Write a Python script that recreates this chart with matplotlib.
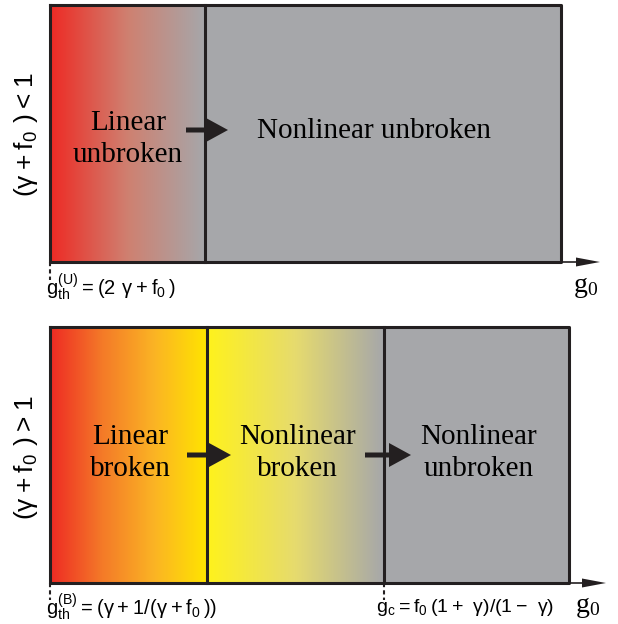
import numpy as np
import matplotlib.pyplot as plt
from matplotlib.colors import LinearSegmentedColormap

# panel geometry in figure pixels (x edges of regions, y top/bottom)
top_edges = [50, 205, 561]
top_y = (5, 262)
bot_edges = [50, 207, 384, 569]
bot_y = (327, 583)

red = "#ee2a24"
grey = "#a6a7aa"
orange = "#f47a28"
yellow = "#ffe400"
yellow_lt = "#fff21c"
khaki = "#e6db6e"

top_grad = [red, "#cf8070", grey]
bot_grad1 = [red, orange, "#fbb424", yellow]
bot_grad2 = [yellow_lt, khaki, grey]

top_labels = ["Linear\nunbroken", "Nonlinear unbroken"]
bot_labels = ["Linear\nbroken", "Nonlinear\nbroken", "Nonlinear\nunbroken"]

plt.rcParams["font.family"] = ["Liberation Sans", "DejaVu Sans"]
plt.rcParams["mathtext.default"] = "regular"

fig = plt.figure(figsize=(6.18, 6.24), dpi=100)
ax = fig.add_axes([0, 0, 1, 1])
ax.set_xlim(0, 618)
ax.set_ylim(624, 0)
ax.axis("off")

edge = "#231f20"
serif = ["Liberation Serif", "DejaVu Serif"]


def gradient(x0, x1, y0, y1, stops):
    cmap = LinearSegmentedColormap.from_list("g", stops)
    arr = np.linspace(0, 1, 256)[None, :]
    ax.imshow(arr, cmap=cmap, extent=(x0, x1, y1, y0), aspect="auto",
              interpolation="bilinear", zorder=1)


def arrow(x0, x1, y):
    ax.arrow(x0, y, x1 - x0, 0, width=5, head_width=24, head_length=22,
             length_includes_head=True, color=edge, lw=0, zorder=5)


def axis_arrow(x0, x1, y):
    ax.plot([x0, x1 - 20], [y, y], color=edge, lw=1.2, zorder=5)
    ax.arrow(x1 - 22, y, 22, 0, width=0.1, head_width=9, head_length=24,
             length_includes_head=True, color=edge, lw=0, zorder=5)


# ---- top panel
y0, y1 = top_y
gradient(top_edges[0], top_edges[1], y0, y1, top_grad)
ax.fill_between([top_edges[1], top_edges[2]], y0, y1, color=grey, zorder=1)
ax.plot([top_edges[0], top_edges[2], top_edges[2], top_edges[0], top_edges[0]],
        [y0, y0, y1, y1, y0], color=edge, lw=2.2, zorder=4)
ax.plot([top_edges[1], top_edges[1]], [y0, y1], color=edge, lw=2.2, zorder=4)
axis_arrow(top_edges[2], 600, y1)
ax.plot([top_edges[0], top_edges[0]], [y1, 280], color=edge, lw=1.5, ls=(0, (2, 1.5)), zorder=4)
ax.text(128, 139, top_labels[0], family=serif, fontsize=21, ha="center", va="center",
        linespacing=1.35, zorder=6)
ax.text(374, 131, top_labels[1], family=serif, fontsize=21, ha="center", va="center", zorder=6)
arrow(186, 228, 130)
ax.text(26, 135, r"$(\gamma + f_0\ ) < 1$", fontsize=19, rotation=90, ha="center",
        va="center")
ax.text(46, 287, r"$g_{th}^{(U)} = (2\ \gamma + f_0\,)$", fontsize=14.5, ha="left",
        va="center")
ax.text(573, 287, r"$g_0$", fontsize=20, family=serif, ha="left", va="center")

# ---- bottom panel
y0, y1 = bot_y
gradient(bot_edges[0], bot_edges[1], y0, y1, bot_grad1)
gradient(bot_edges[1], bot_edges[2], y0, y1, bot_grad2)
ax.fill_between([bot_edges[2], bot_edges[3]], y0, y1, color=grey, zorder=1)
ax.plot([bot_edges[0], bot_edges[3], bot_edges[3], bot_edges[0], bot_edges[0]],
        [y0, y0, y1, y1, y0], color=edge, lw=2.2, zorder=4)
for xb in bot_edges[1:3]:
    ax.plot([xb, xb], [y0, y1], color=edge, lw=2.2, zorder=4)
axis_arrow(bot_edges[3], 606, y1)
for xb in [bot_edges[0], bot_edges[2]]:
    ax.plot([xb, xb], [y1, 600], color=edge, lw=1.5, ls=(0, (2, 1.5)), zorder=4)
centers = [(bot_edges[0] + bot_edges[1]) / 2, (bot_edges[1] + bot_edges[2]) / 2,
           (bot_edges[2] + bot_edges[3]) / 2]
for cx, lab in zip(centers, bot_labels):
    ax.text(cx + 2, 453, lab, family=serif, fontsize=21, ha="center", va="center",
            linespacing=1.35, zorder=6)
arrow(187, 231, 455)
arrow(365, 411, 455)
ax.text(26, 458, r"$(\gamma + f_0\ ) > 1$", fontsize=19, rotation=90, ha="center",
        va="center")
ax.text(46, 607, r"$g_{th}^{(B)} = (\gamma + 1/(\gamma + f_0\,))$", fontsize=14.5,
        ha="left", va="center")
ax.text(376, 607, r"$g_c = f_0\,(1 +\ \gamma)/(1 -\ \gamma)$", fontsize=14,
        ha="left", va="center")
ax.text(575, 607, r"$g_0$", fontsize=20, family=serif, ha="left", va="center")

fig.savefig("out.png", dpi=100)
